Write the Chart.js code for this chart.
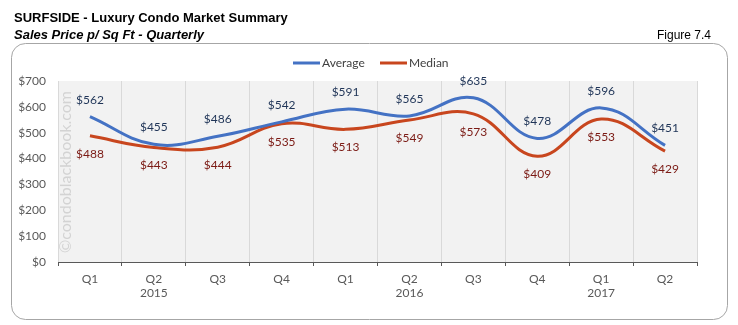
<!DOCTYPE html>
<html>
<head>
<meta charset="utf-8">
<script src="https://cdn.jsdelivr.net/npm/chart.js@4.4.0/dist/chart.umd.min.js"></script>
<style>
  html, body { margin: 0; padding: 0; background: #fff; }
  #wrap { width: 738px; height: 325px; position: relative; }
</style>
</head>
<body>
<div id="wrap"><canvas id="chart" width="738" height="325"></canvas></div>
<script>
// quarterly sales price per sq ft
var quarters = [['Q1'], ['Q2', '2015'], ['Q3'], ['Q4'], ['Q1'], ['Q2', '2016'], ['Q3'], ['Q4'], ['Q1', '2017'], ['Q2']];
var averagePrice = [562, 455, 486, 542, 591, 565, 635, 478, 596, 451];
var medianPrice = [488, 443, 444, 535, 513, 549, 573, 409, 553, 429];
var yTicks = [0, 100, 200, 300, 400, 500, 600, 700];

var blue = '#4472c4';
var red = '#c8461e';
var labelFont = 'Lato, "Open Sans", sans-serif';

// frame, titles, plot background and watermark
var decorations = {
  id: 'decorations',
  beforeDraw: function (chart) {
    var ctx = chart.ctx;
    var area = chart.chartArea;
    ctx.save();
    ctx.fillStyle = '#fff';
    ctx.fillRect(0, 0, chart.width, chart.height);

    ctx.strokeStyle = '#a6a6a6';
    ctx.lineWidth = 1;
    ctx.beginPath();
    ctx.roundRect(11.5, 43.5, 716, 276, 14);
    ctx.stroke();

    ctx.fillStyle = '#000';
    ctx.textBaseline = 'alphabetic';
    ctx.font = 'bold 13px "Liberation Sans", Arial, sans-serif';
    ctx.fillText('SURFSIDE - Luxury Condo Market Summary', 14, 22);
    ctx.font = 'italic bold 13px "Liberation Sans", Arial, sans-serif';
    ctx.fillText('Sales Price p/ Sq Ft - Quarterly', 14, 39);
    ctx.font = '12px "Liberation Sans", Arial, sans-serif';
    ctx.textAlign = 'right';
    ctx.fillText('Figure 7.4', 711, 39);

    ctx.fillStyle = '#f2f2f2';
    ctx.fillRect(area.left, area.top, area.right - area.left, area.bottom - area.top);

    // legend
    ctx.textAlign = 'left';
    ctx.textBaseline = 'middle';
    ctx.font = '12px ' + labelFont;
    ctx.lineWidth = 3;
    ctx.strokeStyle = blue;
    ctx.beginPath(); ctx.moveTo(293, 63); ctx.lineTo(320, 63); ctx.stroke();
    ctx.fillStyle = '#404040';
    ctx.fillText('Average', 322, 63);
    ctx.strokeStyle = red;
    ctx.beginPath(); ctx.moveTo(380, 63); ctx.lineTo(407, 63); ctx.stroke();
    ctx.fillText('Median', 409, 63);
    ctx.restore();
  },
  beforeDatasetsDraw: function (chart) {
    var ctx = chart.ctx;
    ctx.save();
    ctx.translate(66, 172);
    ctx.rotate(-Math.PI / 2);
    ctx.textAlign = 'center';
    ctx.textBaseline = 'middle';
    ctx.fillStyle = '#d3d3d3';
    ctx.font = '16px ' + labelFont;
    ctx.fillText('©condoblackbook.com', 0, 0);
    ctx.restore();
  }
};

// value labels: average above the line, median below
var valueLabels = {
  id: 'valueLabels',
  afterDatasetsDraw: function (chart) {
    var ctx = chart.ctx;
    ctx.save();
    ctx.textAlign = 'center';
    ctx.textBaseline = 'middle';
    ctx.font = '12px ' + labelFont;
    chart.data.datasets.forEach(function (ds, i) {
      var meta = chart.getDatasetMeta(i);
      meta.data.forEach(function (pt, j) {
        ctx.fillStyle = i === 0 ? '#1f3457' : '#7b1a14';
        var dy = i === 0 ? -17 : 18;
        ctx.fillText('$' + ds.data[j], pt.x, pt.y + dy);
      });
    });
    ctx.restore();
  }
};

new Chart(document.getElementById('chart'), {
  type: 'line',
  data: {
    labels: quarters,
    datasets: [
      {
        label: 'Average',
        data: averagePrice,
        borderColor: blue,
        borderWidth: 3,
        pointRadius: 0,
        tension: 0.4,
        fill: false
      },
      {
        label: 'Median',
        data: medianPrice,
        borderColor: red,
        borderWidth: 3,
        pointRadius: 0,
        tension: 0.4,
        fill: false
      }
    ]
  },
  options: {
    responsive: false,
    animation: false,
    layout: { padding: { top: 81, right: 41, left: 0, bottom: 0 } },
    plugins: {
      legend: { display: false },
      tooltip: { enabled: false }
    },
    scales: {
      x: {
        offset: true,
        grid: {
          offset: true,
          color: '#d9d9d9',
          tickColor: '#595959',
          tickLength: 4,
          drawOnChartArea: true
        },
        border: { color: '#595959', width: 1 },
        ticks: {
          color: '#595959',
          font: { family: labelFont, size: 12 },
          padding: 6,
          maxRotation: 0,
          autoSkip: false
        },
        afterFit: function (s) { s.height = 63; }
      },
      y: {
        min: 0,
        max: 700,
        afterBuildTicks: function (s) {
          s.ticks = yTicks.map(function (v) { return { value: v }; });
        },
        grid: { display: false, drawTicks: false },
        border: { display: false },
        ticks: {
          color: '#595959',
          font: { family: labelFont, size: 12 },
          padding: 12,
          callback: function (v) { return '$' + v; }
        },
        afterFit: function (s) { s.width = 58; }
      }
    }
  },
  plugins: [decorations, valueLabels]
});
</script>
</body>
</html>
